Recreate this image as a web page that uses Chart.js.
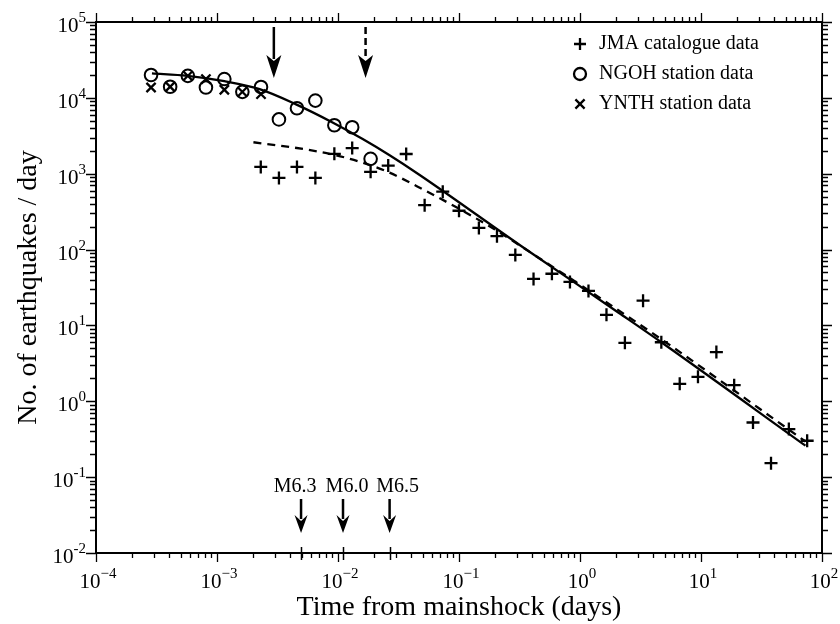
<!DOCTYPE html>
<html>
<head>
<meta charset="utf-8">
<script src="https://cdn.jsdelivr.net/npm/chart.js@4.4.1/dist/chart.umd.min.js"></script>
<style>
  html, body { margin: 0; background: #fff; }
  #wrap { width: 840px; height: 624px; }
</style>
</head>
<body>
<div id="wrap"><canvas id="chart"></canvas></div>
<script>
// JMA catalogue counts (days, events/day)
const jmaT = [2.3e-3, 3.25e-3, 4.58e-3, 6.5e-3, 9.33e-3, 1.31e-2, 1.86e-2, 2.6e-2, 3.66e-2, 5.2e-2,
  7.34e-2, 0.1, 0.146, 0.206, 0.292, 0.413, 0.586, 0.826, 1.175, 1.655, 2.35, 3.32, 4.7, 6.67,
  9.44, 13.4, 18.8, 26.9, 37.9, 53.2, 75.4];
const jmaN = [1230, 880, 1230, 880, 1830, 2180, 1060, 1280, 1820, 385,
  580, 325, 193, 150, 85, 41, 48, 37.5, 28.5, 13.8, 5.9, 21.2, 6.0, 1.7,
  2.1, 4.45, 1.63, 0.525, 0.153, 0.43, 0.302];

// NGOH station counts
const ngohT = [2.85e-4, 4.1e-4, 5.74e-4, 8.1e-4, 1.15e-3, 1.62e-3, 2.31e-3, 3.25e-3, 4.58e-3,
  6.5e-3, 9.33e-3, 1.31e-2, 1.86e-2];
const ngohN = [2.0e4, 1.4e4, 1.95e4, 1.37e4, 1.77e4, 1.2e4, 1.39e4, 5.2e3, 7.3e3,
  9.2e3, 4.35e3, 4.1e3, 1.57e3];

// YNTH station counts
const ynthT = [2.85e-4, 4.1e-4, 5.74e-4, 8.1e-4, 1.15e-3, 1.62e-3, 2.31e-3];
const ynthN = [1.37e4, 1.4e4, 1.95e4, 1.77e4, 1.28e4, 1.2e4, 1.12e4];

// fitted curves
const fitT = [2.9e-4, 5.7e-4, 1.15e-3, 2.25e-3, 4.5e-3, 9.1e-3, 1.6e-2, 2.67e-2, 4.7e-2,
  0.315, 2.1, 4.7, 73];
const fitN = [2.1e4, 1.95e4, 1.66e4, 1.3e4, 8.2e3, 4.7e3, 2.86e3, 1.75e3, 970,
  116, 14.6, 6.0, 0.26];
const fit2T = [2.0e-3, 5.5e-3, 1.17e-2, 2.5e-2, 5.07e-2, 0.169, 0.531, 1.2, 5, 73];
const fit2N = [2.6e3, 2.08e3, 1.62e3, 1.08e3, 617, 214, 66.5, 28.4, 6.15, 0.295];

// arrows: top (solid, dashed) and the three large aftershocks
const topArrowT = [2.95e-3, 1.69e-2];
const shockT = [4.95e-3, 1.1e-2, 2.67e-2];
const shockLabels = ['M6.3', 'M6.0', 'M6.5'];
const shockLabelShift = [-6, 4, 8];

const xDecades = [-4, -3, -2, -1, 0, 1, 2];
const yDecades = [-2, -1, 0, 1, 2, 3, 4, 5];

const legendItems = [
  { style: 'cross', label: 'JMA catalogue data' },
  { style: 'circle', label: 'NGOH station data' },
  { style: 'crossRot', label: 'YNTH station data' },
];

const SERIF = '"Liberation Serif", "Times New Roman", serif';
const toXY = (ts, ns) => ts.map((t, i) => ({ x: t, y: ns[i] }));

function arrow(ctx, x, y0, y1, head, half, dashed) {
  ctx.save();
  ctx.lineWidth = 2.5;
  if (dashed) ctx.setLineDash([7, 4]);
  ctx.beginPath();
  ctx.moveTo(x, y0);
  ctx.lineTo(x, y1 - head + 4);
  ctx.stroke();
  ctx.setLineDash([]);
  ctx.beginPath();
  ctx.moveTo(x, y1);
  ctx.lineTo(x - half, y1 - head);
  ctx.lineTo(x, y1 - head + 6);
  ctx.lineTo(x + half, y1 - head);
  ctx.closePath();
  ctx.fill();
  ctx.restore();
}

function powLabel(ctx, x, y, exp, align) {
  ctx.font = '21px ' + SERIF;
  const wb = ctx.measureText('10').width;
  ctx.font = '15px ' + SERIF;
  const we = ctx.measureText(exp).width;
  let left = align === 'right' ? x - wb - we : x - (wb + we) / 2 + 2;
  ctx.textAlign = 'left';
  ctx.textBaseline = 'alphabetic';
  ctx.font = '21px ' + SERIF;
  ctx.fillText('10', left, y);
  ctx.font = '15px ' + SERIF;
  ctx.fillText(exp, left + wb, y - 10);
}

const decor = {
  id: 'decor',
  afterDatasetsDraw(chart) {
    const { ctx, chartArea: a } = chart;
    const xs = chart.scales.x, ys = chart.scales.y;
    ctx.save();
    ctx.strokeStyle = '#000';
    ctx.fillStyle = '#000';
    ctx.lineWidth = 2;
    ctx.strokeRect(a.left, a.top, a.right - a.left, a.bottom - a.top);

    // ticks, outward on all four sides
    ctx.lineWidth = 1.3;
    ctx.beginPath();
    xDecades.forEach((e) => {
      const ks = e < 2 ? [1, 2, 3, 4, 5, 6, 7, 8, 9] : [1];
      ks.forEach((k) => {
        const px = Math.round(xs.getPixelForValue(k * Math.pow(10, e))) + 0.5;
        const len = k === 1 ? 9 : 5;
        ctx.moveTo(px, a.bottom); ctx.lineTo(px, a.bottom + len);
        ctx.moveTo(px, a.top); ctx.lineTo(px, a.top - len);
      });
    });
    yDecades.forEach((e) => {
      const ks = e < 5 ? [1, 2, 3, 4, 5, 6, 7, 8, 9] : [1];
      ks.forEach((k) => {
        const py = Math.round(ys.getPixelForValue(k * Math.pow(10, e))) + 0.5;
        const len = k === 1 ? 10 : 6;
        ctx.moveTo(a.left, py); ctx.lineTo(a.left - len, py);
        ctx.moveTo(a.right, py); ctx.lineTo(a.right + len, py);
      });
    });
    ctx.stroke();

    // tick labels
    xDecades.forEach((e) => {
      const px = xs.getPixelForValue(Math.pow(10, e));
      powLabel(ctx, px, a.bottom + 35, e < 0 ? '\u2212' + (-e) : String(e), 'center');
    });
    yDecades.forEach((e) => {
      const py = ys.getPixelForValue(Math.pow(10, e));
      powLabel(ctx, a.left - 10, py + 10, String(e), 'right');
    });

    // axis titles
    ctx.font = '28px ' + SERIF;
    ctx.textAlign = 'center';
    ctx.textBaseline = 'alphabetic';
    ctx.fillText('Time from mainshock (days)', (a.left + a.right) / 2, 615);
    ctx.save();
    ctx.translate(36, (a.top + a.bottom) / 2);
    ctx.rotate(-Math.PI / 2);
    ctx.fillText('No. of earthquakes / day', 0, 0);
    ctx.restore();

    // arrows at the top
    topArrowT.forEach((t, i) => {
      arrow(ctx, xs.getPixelForValue(t), a.top + 5, a.top + 56, 23, 7.5, i === 1);
    });

    // large aftershocks
    ctx.font = '20px ' + SERIF;
    ctx.textAlign = 'center';
    shockT.forEach((t, i) => {
      const px = xs.getPixelForValue(t);
      ctx.textBaseline = 'alphabetic';
      ctx.fillText(shockLabels[i], px + shockLabelShift[i], 492);
      arrow(ctx, px, 499, 533, 18, 6.5, false);
      ctx.lineWidth = 1.5;
      ctx.beginPath();
      ctx.moveTo(Math.round(px) + 0.5, a.bottom - 6);
      ctx.lineTo(Math.round(px) + 0.5, a.bottom + 7);
      ctx.stroke();
    });

    // legend
    ctx.font = '20px ' + SERIF;
    ctx.textAlign = 'left';
    ctx.textBaseline = 'middle';
    legendItems.forEach((it, i) => {
      const y = 44 + i * 30;
      ctx.lineWidth = 2.3;
      ctx.fillStyle = 'rgba(0,0,0,0)';
      Chart.helpers.drawPoint(ctx, { pointStyle: it.style, radius: it.style === 'crossRot' ? 6.5 : 6, rotation: 0, borderWidth: 2.3 }, 580, y);
      ctx.fillStyle = '#000';
      ctx.fillText(it.label, 599, y);
    });
    ctx.restore();
  },
};

new Chart(document.getElementById('chart'), {
  type: 'scatter',
  data: {
    datasets: [
      {
        type: 'line', data: toXY(fitT, fitN), borderColor: '#000', borderWidth: 2.3,
        pointRadius: 0, cubicInterpolationMode: 'monotone', fill: false,
      },
      {
        type: 'line', data: toXY(fit2T, fit2N), borderColor: '#000', borderWidth: 2.3,
        borderDash: [8, 6], pointRadius: 0, cubicInterpolationMode: 'monotone', fill: false,
      },
      {
        data: toXY(jmaT, jmaN), pointStyle: 'cross', pointRadius: 6.5,
        borderColor: '#000', borderWidth: 2.3, backgroundColor: 'transparent',
      },
      {
        data: toXY(ngohT, ngohN), pointStyle: 'circle', pointRadius: 6.3,
        borderColor: '#000', borderWidth: 2, backgroundColor: 'transparent',
      },
      {
        data: toXY(ynthT, ynthN), pointStyle: 'crossRot', pointRadius: 6.5,
        borderColor: '#000', borderWidth: 2.3, backgroundColor: 'transparent',
      },
    ],
  },
  options: {
    responsive: true,
    maintainAspectRatio: false,
    animation: false,
    layout: { padding: { left: 96, top: 22, right: 18, bottom: 71 } },
    scales: {
      x: { type: 'logarithmic', min: 1e-4, max: 1e2, display: false },
      y: { type: 'logarithmic', min: 1e-2, max: 1e5, display: false },
    },
    plugins: { legend: { display: false }, tooltip: { enabled: false } },
  },
  plugins: [decor],
});
</script>
</body>
</html>
